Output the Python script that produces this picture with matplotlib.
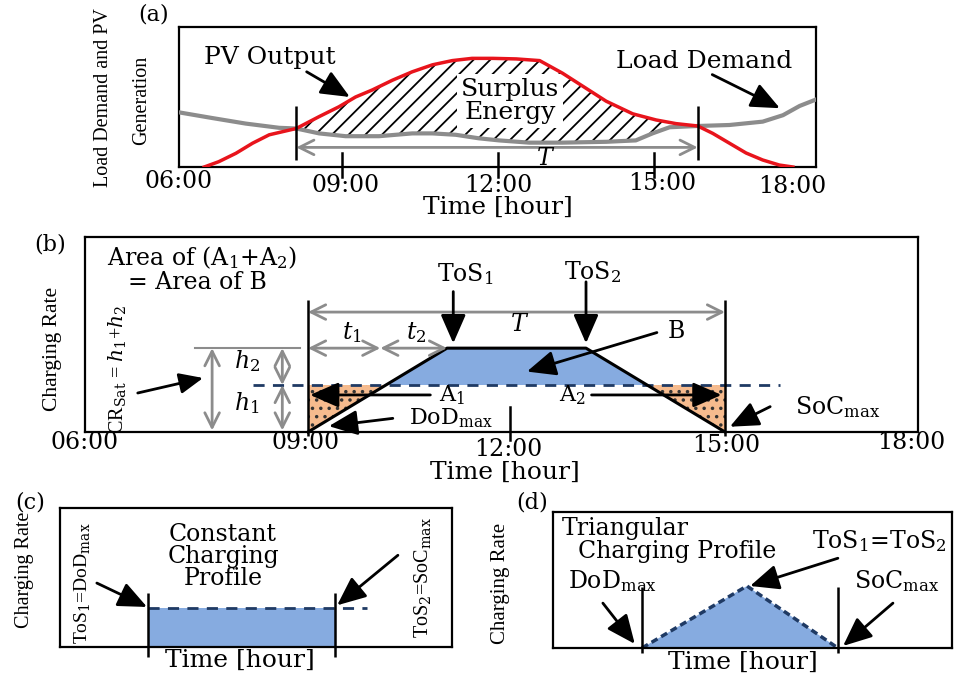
import numpy as np
import matplotlib.pyplot as plt
from matplotlib.patches import Polygon, Rectangle

plt.rcParams['font.family'] = 'DejaVu Serif'
plt.rcParams['mathtext.fontset'] = 'custom'
plt.rcParams['mathtext.rm'] = 'DejaVu Serif'
plt.rcParams['mathtext.it'] = 'DejaVu Serif:italic'
plt.rcParams['hatch.linewidth'] = 1.3

# (a) PV output and load demand over the day (hours, normalised power)
pv_hours = [6.35, 6.63, 6.96, 7.28, 7.6, 8.12, 8.56, 8.94, 9.26, 9.58, 9.97, 10.35, 10.74, 11.12,
            11.5, 11.9, 12.35, 12.8, 13.24, 13.66, 14.08, 14.59, 15.04, 15.42, 15.84, 16.13,
            16.45, 16.77, 17.09, 17.41, 17.67]
pv_power = [0, 0.038, 0.098, 0.17, 0.23, 0.275, 0.36, 0.43, 0.50, 0.55, 0.62, 0.68, 0.73, 0.76,
            0.776, 0.776, 0.772, 0.76, 0.67, 0.57, 0.47, 0.38, 0.336, 0.31, 0.293, 0.24,
            0.17, 0.10, 0.05, 0.014, 0]
load_hours = [5.87, 6.5, 7.15, 7.79, 8.12, 8.56, 9.07, 9.71, 10.35, 10.74, 11.19, 11.63, 12.02,
              12.6, 13.24, 14.08, 14.65, 14.97, 15.3, 15.84, 16.45, 17.09, 17.48, 17.8, 18.1]
load_power = [0.39, 0.35, 0.31, 0.28, 0.275, 0.24, 0.22, 0.22, 0.24, 0.24, 0.23, 0.205, 0.19,
              0.174, 0.174, 0.18, 0.19, 0.24, 0.284, 0.293, 0.30, 0.324, 0.37, 0.436, 0.48]
cross_hours = [8.12, 15.84]        # where PV = load
a_ticks = [9, 12, 15]
tick_labels = ['06:00', '09:00', '12:00', '15:00', '18:00']

# (b) trapezoidal charging profile
b_hours = [9, 11, 13, 15]          # DoD_max, ToS1, ToS2, SoC_max
b_rate = [0, 0.43, 0.43, 0]
cr_sat = 0.241
t_split = 10.04

# (c) constant profile, (d) triangular profile (fractions of the box)
c_start, c_end, c_rate = 0.2245, 0.7015, 0.28
d_x = [0.223, 0.486, 0.714]
d_y = [0, 0.456, 0]

BLUE = '#86abe0'
ORANGE = '#f6bb8e'
NAVY = '#1f3a64'
GRAY = '#8c8c8c'
W, H = 955, 679

fig = plt.figure(figsize=(9.55, 6.79), dpi=100)


def box(l, t, r, b):
    ax = fig.add_axes([l / W, 1 - b / H, (r - l) / W, (b - t) / H])
    ax.set_xticks([])
    ax.set_yticks([])
    for s in ax.spines.values():
        s.set_linewidth(1.6)
    return ax


def arrow(ax, start, end, **kw):
    props = dict(arrowstyle='-|>,head_length=0.8,head_width=0.35', color='k', lw=2,
                 mutation_scale=22, shrinkA=0, shrinkB=0)
    props.update(kw)
    ax.annotate('', xy=end, xytext=start, arrowprops=props, annotation_clip=False)


def garrow(ax, start, end):
    ax.annotate('', xy=end, xytext=start, annotation_clip=False,
                arrowprops=dict(arrowstyle='<->,head_length=0.7,head_width=0.35', color=GRAY,
                                lw=2, mutation_scale=15, shrinkA=0, shrinkB=0))


def ylab(x, y, s, size):
    fig.text(x / W, 1 - y / H, s, rotation=90, ha='center', va='center',
             family='Liberation Serif', fontsize=size)


# ---------------- (a) ----------------
ax = box(179, 27, 816, 167)
ax.set_xlim(5.865, 18.115)
ax.set_ylim(0, 1)
ph, pp = np.array(pv_hours), np.array(pv_power)
lh, lp = np.array(load_hours), np.array(load_power)
m1 = (ph >= cross_hours[0]) & (ph <= cross_hours[1])
m2 = (lh >= cross_hours[0]) & (lh <= cross_hours[1])
pts = np.vstack([np.column_stack([ph[m1], pp[m1]]), np.column_stack([lh[m2], lp[m2]])[::-1]])
ax.add_patch(Polygon(pts, closed=True, fc='none', ec='k', hatch='//', lw=0, zorder=2))
ax.text(12.23, 0.47, 'Surplus\nEnergy', ha='center', va='center', fontsize=18, linespacing=1.0,
        bbox=dict(fc='white', ec='none', pad=3), zorder=3)
ax.plot(lh, lp, color=GRAY, lw=3, zorder=4)
ax.plot(ph, pp, color='#e8141c', lw=2.5, zorder=5)
ax.vlines(cross_hours, 0.05, 0.436, color='k', lw=1.8, zorder=6)
garrow(ax, (cross_hours[0], 0.14), (cross_hours[1], 0.14))
ax.text(12.92, 0.064, '$T$', ha='center', va='center', fontsize=17)
for h in a_ticks:
    ax.plot([h, h], [0.1, -0.07], color='k', lw=1.8, clip_on=False)
for lab, x, y in zip(tick_labels, [5.85, 9.06, 12.0, 15.15, 17.65], [-0.107, -0.13, -0.13, -0.12, -0.14]):
    ax.text(x, y, lab, ha='center', va='center', fontsize=17)
ax.text(12.0, -0.29, 'Time [hour]', ha='center', va='center', fontsize=18)
ax.text(5.38, 1.086, '(a)', ha='center', va='center', fontsize=16)
ax.text(7.62, 0.78, 'PV Output', ha='center', va='center', fontsize=18)
arrow(ax, (8.32, 0.68), (9.15, 0.50))
ax.text(15.96, 0.75, 'Load Demand', ha='center', va='center', fontsize=18)
arrow(ax, (16.12, 0.66), (17.42, 0.42))
ylab(103, 98, 'Load Demand and PV', 14.5)
ylab(142, 100, 'Generation', 14.5)

# ---------------- (b) ----------------
ax = box(85, 237, 918, 432)
ax.set_xlim(5.791, 17.777)
ax.set_ylim(0, 1)
x_lo = b_hours[0] + (b_hours[1] - b_hours[0]) * cr_sat / b_rate[1]
x_hi = b_hours[3] - (b_hours[3] - b_hours[2]) * cr_sat / b_rate[2]
ax.add_patch(Polygon([(x_lo, cr_sat), (b_hours[1], b_rate[1]), (b_hours[2], b_rate[2]), (x_hi, cr_sat)],
                     fc=BLUE, ec='none', zorder=1))
for tri in ([(b_hours[0], 0), (b_hours[0], cr_sat), (x_lo, cr_sat)],
            [(x_hi, cr_sat), (b_hours[3], cr_sat), (b_hours[3], 0)]):
    ax.add_patch(Polygon(tri, fc=ORANGE, ec='#333333', lw=0, hatch='..', zorder=1))
ax.plot(b_hours, b_rate, color='k', lw=2.2, zorder=3, clip_on=False)
ax.plot([8.21, 15.79], [cr_sat, cr_sat], color=NAVY, lw=2, ls=(0, (4, 3)), zorder=2)
ax.vlines([b_hours[0], b_hours[3]], -0.02, 0.677, color='k', lw=1.8, clip_on=False, zorder=4)
ax.plot([11.9, 11.9], [0.128, -0.04], color='k', lw=1.8, clip_on=False)
garrow(ax, (b_hours[0], 0.615), (b_hours[3], 0.615))
ax.text(12.05, 0.55, '$T$', ha='center', va='center', fontsize=17)
garrow(ax, (b_hours[0], b_rate[1]), (t_split, b_rate[1]))
garrow(ax, (t_split, b_rate[1]), (b_hours[1], b_rate[1]))
ax.text(9.63, 0.51, '$t_1$', ha='center', va='center', fontsize=17)
ax.text(10.56, 0.51, '$t_2$', ha='center', va='center', fontsize=17)
ax.plot([7.37, 8.88], [b_rate[1], b_rate[1]], color=GRAY, lw=1.5)
garrow(ax, (8.63, 0.008), (8.63, cr_sat))
garrow(ax, (8.63, cr_sat), (8.63, b_rate[1]))
garrow(ax, (7.62, 0.008), (7.62, b_rate[1]))
ax.text(8.12, 0.365, '$h_2$', ha='center', va='center', fontsize=17)
ax.text(8.12, 0.15, '$h_1$', ha='center', va='center', fontsize=17)
ax.text(6.27, 0.32, r'CR$_{\rm Sat}$ = $h_1$+$h_2$', rotation=90, ha='center', va='center',
        family='Liberation Serif', fontsize=14.5)
arrow(ax, (6.55, 0.2), (7.49, 0.277), mutation_scale=18)
ax.text(6.11, 0.895, r'Area of (A$_1$+A$_2$)', ha='left', va='center', fontsize=17)
ax.text(6.41, 0.765, '= Area of B', ha='left', va='center', fontsize=17)
ax.text(11.26, 0.81, 'ToS$_1$', ha='center', va='center', fontsize=17)
arrow(ax, (11.09, 0.72), (11.09, 0.455))
ax.text(13.09, 0.82, 'ToS$_2$', ha='center', va='center', fontsize=17)
arrow(ax, (13.0, 0.77), (13.0, 0.455))
ax.text(14.3, 0.514, 'B', ha='center', va='center', fontsize=17)
arrow(ax, (14.02, 0.51), (12.15, 0.31))
ax.text(11.07, 0.19, 'A$_1$', ha='center', va='center', fontsize=16)
arrow(ax, (10.76, 0.19), (9.03, 0.19))
ax.text(12.8, 0.19, 'A$_2$', ha='center', va='center', fontsize=16)
arrow(ax, (13.08, 0.19), (14.95, 0.19))
ax.text(11.05, 0.07, r'DoD$_{\rm max}$', ha='center', va='center', fontsize=16)
arrow(ax, (10.22, 0.07), (9.3, 0.03))
ax.text(16.62, 0.128, r'SoC$_{\rm max}$', ha='center', va='center', fontsize=17)
arrow(ax, (15.65, 0.13), (15.07, 0.027))
for lab, x, y in zip(tick_labels, [5.78, 8.96, 11.88, 15.01, 17.68], [-0.056, -0.056, -0.092, -0.067, -0.056]):
    ax.text(x, y, lab, ha='center', va='center', fontsize=17)
ax.text(11.83, -0.205, 'Time [hour]', ha='center', va='center', fontsize=18)
ax.text(5.29, 0.96, '(b)', ha='center', va='center', fontsize=16)
ylab(53, 349, 'Charging Rate', 15.5)

# ---------------- (c) ----------------
ax = box(60, 508, 452, 647)
ax.set_xlim(0, 1)
ax.set_ylim(0, 1)
ax.add_patch(Rectangle((c_start, 0), c_end - c_start, c_rate, fc=BLUE, ec='none'))
ax.plot([c_start, 0.783], [c_rate, c_rate], color=NAVY, lw=2, ls=(0, (4, 3)))
ax.vlines([c_start, c_end], -0.07, 0.39, color='k', lw=1.8, clip_on=False)
ax.text(0.416, 0.65, 'Constant\nCharging\nProfile', ha='center', va='center', fontsize=17, linespacing=0.95)
ax.text(0.056, 0.46, r'ToS$_1$=DoD$_{\rm max}$', rotation=90, ha='center', va='center',
        family='Liberation Serif', fontsize=14)
ax.text(0.926, 0.5, r'ToS$_2$=SoC$_{\rm max}$', rotation=90, ha='center', va='center',
        family='Liberation Serif', fontsize=14.5)
arrow(ax, (0.094, 0.46), (0.222, 0.288))
arrow(ax, (0.862, 0.66), (0.707, 0.30))
ax.text(0.459, -0.094, 'Time [hour]', ha='center', va='center', fontsize=18, clip_on=False)
ax.text(-0.077, 1.04, '(c)', ha='center', va='center', fontsize=16)
ylab(25, 570, 'Charging Rate', 14.5)

# ---------------- (d) ----------------
ax = box(553, 512, 952, 648)
ax.set_xlim(0, 1)
ax.set_ylim(0, 1)
ax.fill(d_x, d_y, color=BLUE, lw=0)
ax.plot(d_x, d_y, color=NAVY, lw=2.5, ls=(0, (2, 1.2)))
ax.vlines([d_x[0], d_x[2]], -0.037, 0.449, color='k', lw=1.8, clip_on=False)
ax.text(0.18, 0.875, 'Triangular', ha='center', va='center', fontsize=17)
ax.text(0.31, 0.713, 'Charging Profile', ha='center', va='center', fontsize=17)
ax.text(0.817, 0.787, 'ToS$_1$=ToS$_2$', ha='center', va='center', fontsize=17)
arrow(ax, (0.714, 0.66), (0.494, 0.456))
ax.text(0.148, 0.49, r'DoD$_{\rm max}$', ha='center', va='center', fontsize=17)
arrow(ax, (0.125, 0.33), (0.205, 0.03))
ax.text(0.862, 0.49, r'SoC$_{\rm max}$', ha='center', va='center', fontsize=17)
arrow(ax, (0.852, 0.33), (0.727, 0.015))
ax.text(0.476, -0.103, 'Time [hour]', ha='center', va='center', fontsize=18)
ax.text(-0.053, 1.07, '(d)', ha='center', va='center', fontsize=16)
ylab(500, 583, 'Charging Rate', 15)

fig.savefig('out.png', dpi=100)
